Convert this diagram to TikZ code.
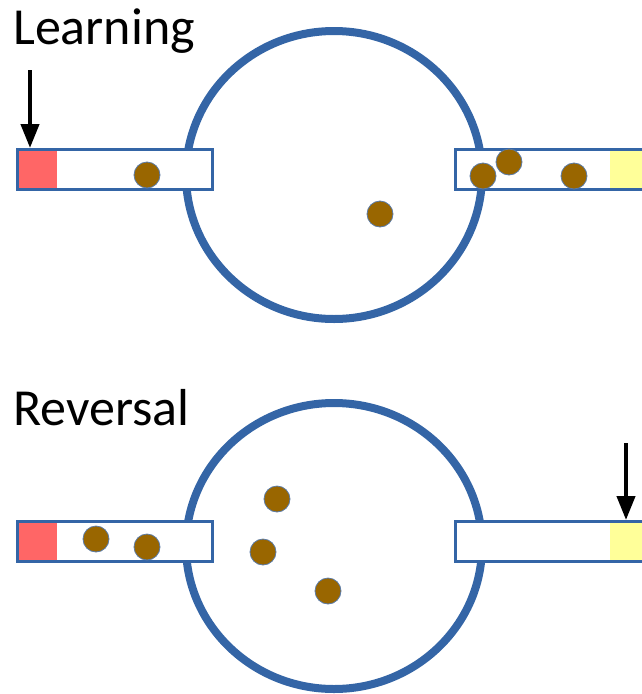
\documentclass[tikz,border=0pt]{standalone}
\usepackage{fontspec}
\setmainfont{Carlito}
\usetikzlibrary{arrows.meta}
\definecolor{ringblue}{HTML}{3465A6}
\definecolor{ballbrown}{HTML}{996600}
\definecolor{balledge}{HTML}{5A7BA8}
\definecolor{redbox}{HTML}{FF6666}
\definecolor{yellowbox}{HTML}{FFFF99}
\tikzset{
  ring/.style={draw=ringblue, line width=8pt},
  arm/.style={draw=ringblue, fill=white, line width=3pt, line join=round},
  ball/.style={fill=ballbrown, draw=balledge, line width=0.8pt},
  pointer/.style={-{Triangle[length=24pt,width=18pt]}, line width=4.2pt, black},
  title/.style={anchor=base west, inner sep=0pt, font=\fontsize{52}{60}\selectfont}
}
\begin{document}
\begin{tikzpicture}[x=1pt,y=-1pt]
\useasboundingbox (0,0) rectangle (642,694);
% ---------- Learning ----------
\node[title] (learn) at (13,44) {Learning};
\draw[ring] (334,175) ellipse [x radius=148, y radius=144];
\draw[arm] (17,149) rectangle (212,189);
\fill[redbox] (18.5,150.5) rectangle (57,187.5);
\draw[arm] (455,149) rectangle (700,189);
\fill[yellowbox] (610,150.5) rectangle (660,187.5);
\draw[ringblue, line width=3pt] (455,149) rectangle (700,189);
\draw[ringblue, line width=3pt] (17,149) rectangle (212,189);
\fill[ball] (147,175) circle (13);
\fill[ball] (380,214) circle (13);
\fill[ball] (483,176) circle (13);
\fill[ball] (509,162) circle (13);
\fill[ball] (574,176) circle (13);
\coordinate (la) at (30,70);
\coordinate (lb) at (30,148);
\draw[pointer] (la) -- (lb);
% ---------- Reversal ----------
\node[title] (rev) at (13,425) {Reversal};
\draw[ring] (334,546) ellipse [x radius=148, y radius=143];
\draw[arm] (17,521) rectangle (212,561);
\fill[redbox] (18.5,522.5) rectangle (57,559.5);
\draw[arm] (455,521) rectangle (700,561);
\fill[yellowbox] (610,522.5) rectangle (660,559.5);
\draw[ringblue, line width=3pt] (455,521) rectangle (700,561);
\draw[ringblue, line width=3pt] (17,521) rectangle (212,561);
\fill[ball] (96,539) circle (13);
\fill[ball] (147,547) circle (13);
\fill[ball] (277,499) circle (13);
\fill[ball] (263,552) circle (13);
\fill[ball] (328,591) circle (13);
\coordinate (ra) at (626,443);
\coordinate (rb) at (626,520);
\draw[pointer] (ra) -- (rb);
\end{tikzpicture}
\end{document}
